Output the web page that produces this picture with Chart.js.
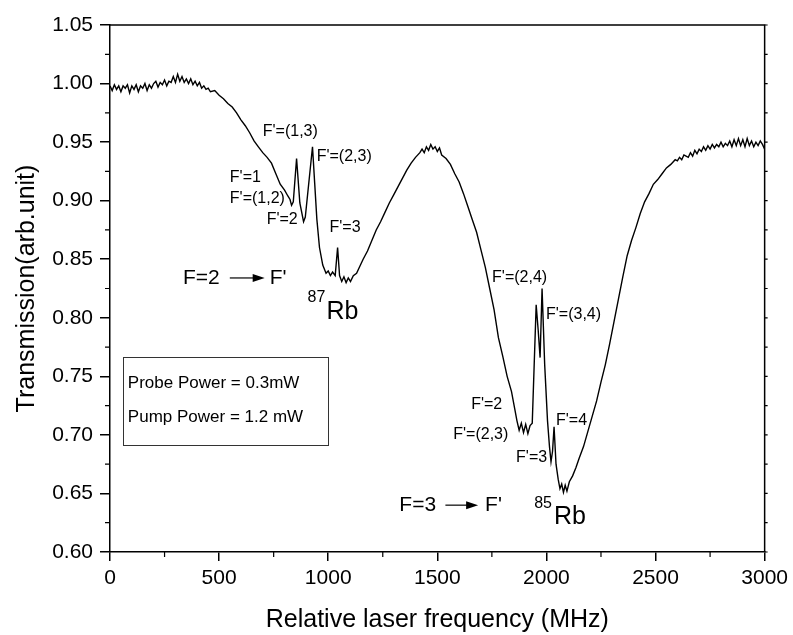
<!DOCTYPE html>
<html>
<head>
<meta charset="utf-8">
<script src="https://cdn.jsdelivr.net/npm/chart.js@4.4.0/dist/chart.umd.min.js"></script>
<style>
  body { margin: 0; background: #fff; }
  #wrap { width: 793px; height: 635px; }
</style>
</head>
<body>
<div id="wrap"><canvas id="chart" width="793" height="635"></canvas></div>
<script>
// relative laser frequency (MHz)
var freq = [
    0, 10, 20, 30, 40, 50, 60, 70, 80, 90, 100, 110, 120, 130, 140, 150, 160, 170, 180, 190,
    200, 210, 220, 230, 240, 250, 260, 270, 280, 290, 300, 310, 320, 330, 340, 350, 360, 370, 380, 390,
    400, 410, 420, 430, 440, 450, 460, 480, 500, 520, 540, 560, 580, 600, 620, 640, 660, 680, 700, 720,
    740, 760, 780, 800, 815, 825, 832, 840, 855, 870, 887, 895, 928, 938, 948, 960, 975, 990, 1000, 1010,
    1020, 1032, 1043, 1052, 1062, 1072, 1082, 1092, 1102, 1115, 1130, 1145, 1160, 1180, 1200, 1220, 1240, 1260, 1280, 1300,
    1320, 1340, 1360, 1380, 1400, 1420, 1430, 1440, 1450, 1460, 1470, 1480, 1490, 1500, 1510, 1520, 1540, 1560, 1580, 1600,
    1620, 1640, 1660, 1680, 1700, 1720, 1740, 1760, 1780, 1800, 1820, 1840, 1855, 1865, 1875, 1885, 1895, 1905, 1915, 1925,
    1935, 1953, 1962, 1971, 1980, 1992, 2005, 2014, 2021, 2028, 2035, 2044, 2054, 2062, 2070, 2078, 2086, 2094, 2105, 2120,
    2135, 2150, 2170, 2190, 2210, 2230, 2250, 2270, 2290, 2310, 2330, 2350, 2370, 2390, 2410, 2430, 2450, 2470, 2490, 2510,
    2530, 2550, 2570, 2590, 2600, 2610, 2620, 2630, 2640, 2650, 2660, 2670, 2680, 2690, 2700, 2710, 2720, 2730, 2740, 2750,
    2760, 2770, 2780, 2790, 2800, 2810, 2820, 2830, 2840, 2850, 2860, 2870, 2880, 2890, 2900, 2910, 2920, 2930, 2940, 2950,
    2960, 2970, 2980, 2990, 3000
];

// transmission (arb. unit)
var trans = [
    0.998, 0.994, 0.999, 0.995, 0.998, 0.993, 0.998, 0.996, 0.999, 0.992, 0.998, 0.995, 0.999, 0.993, 0.998, 0.996, 1.000, 0.994, 0.999, 0.996,
    1.000, 1.002, 0.997, 1.001, 0.999, 1.003, 0.998, 1.002, 1.001, 1.006, 1.001, 1.008, 1.002, 1.006, 1.001, 1.004, 1.000, 1.004, 0.999, 1.002,
    0.998, 1.001, 0.996, 0.998, 0.995, 0.996, 0.993, 0.994, 0.990, 0.987, 0.983, 0.980, 0.975, 0.969, 0.964, 0.958, 0.951, 0.946, 0.941, 0.937,
    0.932, 0.923, 0.914, 0.909, 0.904, 0.901, 0.896, 0.899, 0.936, 0.898, 0.882, 0.886, 0.946, 0.915, 0.884, 0.860, 0.845, 0.838, 0.840, 0.836,
    0.839, 0.836, 0.860, 0.836, 0.831, 0.835, 0.830, 0.834, 0.831, 0.836, 0.838, 0.844, 0.850, 0.857, 0.866, 0.875, 0.882, 0.890, 0.898, 0.905,
    0.912, 0.919, 0.926, 0.932, 0.937, 0.941, 0.944, 0.941, 0.946, 0.943, 0.948, 0.944, 0.946, 0.942, 0.945, 0.939, 0.936, 0.931, 0.923, 0.916,
    0.906, 0.895, 0.884, 0.873, 0.858, 0.843, 0.825, 0.807, 0.783, 0.767, 0.750, 0.737, 0.722, 0.712, 0.704, 0.710, 0.702, 0.709, 0.701, 0.708,
    0.710, 0.811, 0.790, 0.766, 0.825, 0.760, 0.712, 0.690, 0.677, 0.686, 0.707, 0.675, 0.662, 0.654, 0.658, 0.651, 0.657, 0.652, 0.660, 0.665,
    0.672, 0.680, 0.690, 0.703, 0.716, 0.729, 0.745, 0.760, 0.778, 0.797, 0.816, 0.835, 0.853, 0.866, 0.877, 0.889, 0.899, 0.906, 0.914, 0.918,
    0.923, 0.928, 0.931, 0.935, 0.934, 0.937, 0.935, 0.939, 0.938, 0.937, 0.941, 0.938, 0.943, 0.940, 0.944, 0.942, 0.946, 0.943, 0.947, 0.944,
    0.948, 0.945, 0.948, 0.946, 0.950, 0.946, 0.949, 0.947, 0.951, 0.946, 0.952, 0.947, 0.953, 0.947, 0.952, 0.946, 0.953, 0.947, 0.951, 0.946,
    0.950, 0.947, 0.951, 0.948, 0.944
];

// axis ticks
var xMinorTicks = [250, 750, 1250, 1750, 2250, 2750];
var yMinorTicks = [0.625, 0.675, 0.725, 0.775, 0.825, 0.875, 0.925, 0.975, 1.025];

// peak labels: text, anchor frequency, anchor transmission (left / middle)
var peakText = ["F'=(1,3)", "F'=(2,3)", "F'=1", "F'=(1,2)", "F'=2", "F'=3",
                "F'=(2,4)", "F'=(3,4)", "F'=2", "F'=(2,3)", "F'=3", "F'=4"];
var peakFreq = [700, 947, 549, 549, 718, 1006, 1751, 1998, 1655, 1573, 1861, 2044];
var peakTrans = [0.959, 0.938, 0.920, 0.902, 0.884, 0.877, 0.834, 0.803, 0.726, 0.700, 0.681, 0.712];

// transition labels "F=2 -> F'" / "F=3 -> F'"
var transText = ["F=2", "F=3"];
var transFreq = [334, 1326];
var transArrowFrom = [549, 1537];
var transArrowTo = [709, 1687];
var transPrimeFreq = [732, 1719];
var transY = [0.834, 0.640];

// isotope labels
var isoMass = ["87", "85"];
var isoFreq = [905, 1944];
var isoY = [0.817, 0.641];
var isoRbFreq = [992, 2035];
var isoRbY = [0.805, 0.630];

// settings box
var boxLines = ["Probe Power = 0.3mW", "Pump Power = 1.2 mW"];
var boxLineY = [0.744, 0.715];
var boxRange = { x0: 59, x1: 997, y0: 0.7665, y1: 0.6914 };

var FONT = "'Liberation Sans', Arial, sans-serif";

var decorPlugin = {
    id: 'decor',
    afterDraw: function (chart) {
        var ctx = chart.ctx;
        var sx = chart.scales.x;
        var sy = chart.scales.y;
        var a = chart.chartArea;

        ctx.save();
        ctx.strokeStyle = '#000';
        ctx.fillStyle = '#000';
        ctx.lineWidth = 1.5;

        // frame top and right
        ctx.beginPath();
        ctx.moveTo(a.left, a.top);
        ctx.lineTo(a.right, a.top);
        ctx.lineTo(a.right, a.bottom);
        ctx.stroke();

        // minor ticks
        ctx.lineWidth = 1.2;
        ctx.beginPath();
        xMinorTicks.forEach(function (v) {
            var px = sx.getPixelForValue(v);
            ctx.moveTo(px, a.bottom);
            ctx.lineTo(px, a.bottom + 5);
        });
        yMinorTicks.forEach(function (v) {
            var py = sy.getPixelForValue(v);
            ctx.moveTo(a.left, py);
            ctx.lineTo(a.left - 5, py);
            ctx.moveTo(a.right, py);
            ctx.lineTo(a.right + 3, py);
        });
        sy.ticks.forEach(function (t) {
            var py = sy.getPixelForValue(t.value);
            ctx.moveTo(a.right, py);
            ctx.lineTo(a.right + 3, py);
        });
        ctx.stroke();

        // peak labels
        ctx.textAlign = 'left';
        ctx.textBaseline = 'middle';
        ctx.font = '16px ' + FONT;
        for (var i = 0; i < peakText.length; i++) {
            ctx.fillText(peakText[i], sx.getPixelForValue(peakFreq[i]), sy.getPixelForValue(peakTrans[i]));
        }

        // transitions with arrows
        ctx.font = '21px ' + FONT;
        ctx.lineWidth = 1.2;
        for (var j = 0; j < transText.length; j++) {
            var ty = sy.getPixelForValue(transY[j]);
            ctx.fillText(transText[j], sx.getPixelForValue(transFreq[j]), ty);
            var ax0 = sx.getPixelForValue(transArrowFrom[j]);
            var ax1 = sx.getPixelForValue(transArrowTo[j]);
            ctx.beginPath();
            ctx.moveTo(ax0, ty);
            ctx.lineTo(ax1 - 10, ty);
            ctx.stroke();
            ctx.beginPath();
            ctx.moveTo(ax1, ty);
            ctx.lineTo(ax1 - 12, ty - 4);
            ctx.lineTo(ax1 - 12, ty + 4);
            ctx.closePath();
            ctx.fill();
            ctx.fillText("F'", sx.getPixelForValue(transPrimeFreq[j]), ty);
        }

        // isotope labels
        for (var k = 0; k < isoMass.length; k++) {
            ctx.font = '16px ' + FONT;
            ctx.fillText(isoMass[k], sx.getPixelForValue(isoFreq[k]), sy.getPixelForValue(isoY[k]));
            ctx.font = '25px ' + FONT;
            ctx.fillText('Rb', sx.getPixelForValue(isoRbFreq[k]), sy.getPixelForValue(isoRbY[k]));
        }

        // settings box
        var bx0 = sx.getPixelForValue(boxRange.x0);
        var bx1 = sx.getPixelForValue(boxRange.x1);
        var by0 = sy.getPixelForValue(boxRange.y0);
        var by1 = sy.getPixelForValue(boxRange.y1);
        ctx.lineWidth = 1;
        ctx.strokeStyle = '#333';
        ctx.strokeRect(Math.round(bx0) + 0.5, Math.round(by0) + 0.5, Math.round(bx1 - bx0), Math.round(by1 - by0));
        ctx.font = '17px ' + FONT;
        for (var m = 0; m < boxLines.length; m++) {
            ctx.fillText(boxLines[m], bx0 + 5, sy.getPixelForValue(boxLineY[m]));
        }

        ctx.restore();
    }
};

var points = freq.map(function (f, i) { return { x: f, y: trans[i] }; });

var ctx = document.getElementById('chart').getContext('2d');
var chart = new Chart(ctx, {
    type: 'scatter',
    data: {
        datasets: [{
            data: points,
            showLine: true,
            borderColor: '#000',
            borderWidth: 1.4,
            pointRadius: 0,
            tension: 0
        }]
    },
    options: {
        responsive: false,
        animation: false,
        layout: { padding: { top: 25, right: 27, left: 0, bottom: 0 } },
        plugins: {
            legend: { display: false },
            tooltip: { enabled: false }
        },
        scales: {
            x: {
                type: 'linear',
                min: 0,
                max: 3000,
                ticks: {
                    stepSize: 500,
                    color: '#000',
                    padding: 5,
                    maxRotation: 0,
                    font: { family: FONT, size: 21 },
                    callback: function (v) { return String(v); }
                },
                grid: { drawOnChartArea: false, drawTicks: true, tickLength: 9, color: '#000', lineWidth: 1.5 },
                border: { color: '#000', width: 1.5 },
                title: {
                    display: true,
                    text: 'Relative laser frequency (MHz)',
                    color: '#000',
                    font: { family: FONT, size: 25 },
                    padding: { top: 0, bottom: 0 }
                },
                afterFit: function (s) { s.height = 83; }
            },
            y: {
                min: 0.6,
                max: 1.05,
                ticks: {
                    stepSize: 0.05,
                    color: '#000',
                    padding: 7,
                    font: { family: FONT, size: 21 },
                    callback: function (v) { return v.toFixed(2); }
                },
                grid: { drawOnChartArea: false, drawTicks: true, tickLength: 10, color: '#000', lineWidth: 1.5 },
                border: { color: '#000', width: 1.5 },
                title: {
                    display: true,
                    text: 'Transmission(arb.unit)',
                    color: '#000',
                    font: { family: FONT, size: 25 },
                    padding: { top: 12, bottom: 0 }
                },
                afterFit: function (s) { s.width = 110; }
            }
        }
    },
    plugins: [decorPlugin]
});
</script>
</body>
</html>
